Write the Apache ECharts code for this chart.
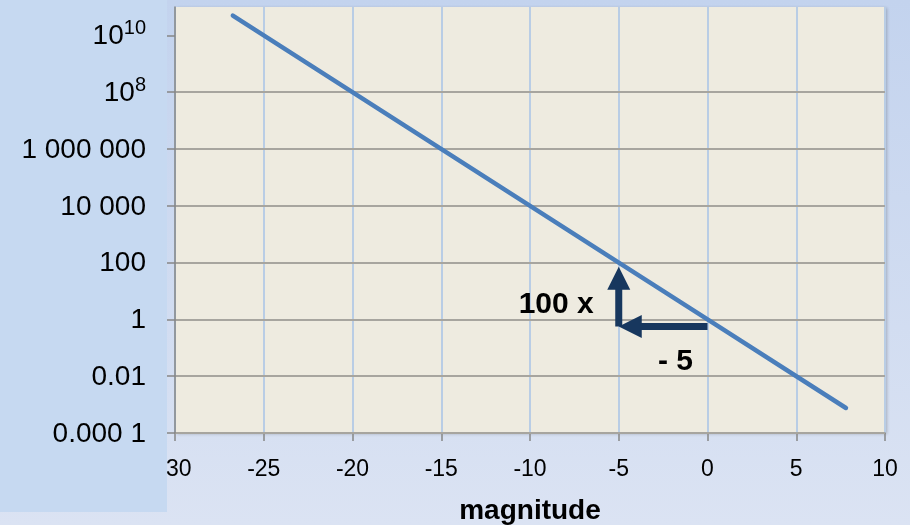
<!DOCTYPE html>
<html>
<head>
<meta charset="utf-8">
<script src="https://cdn.jsdelivr.net/npm/echarts@6/dist/echarts.min.js"></script>
<style>
  html, body { margin: 0; padding: 0; }
  #chart { width: 910px; height: 525px; }
</style>
</head>
<body>
<div id="chart"></div>
<script>
// Relative brightness versus apparent magnitude (log scale)
const magnitudes = [-26.74, -5, 0, 7.8];
const brightness = [5.0e10, 100, 1, 7.6e-4];

// Y tick values and their printed labels ("^" marks a superscript)
const yTickValues = [1e-4, 1e-2, 1, 1e2, 1e4, 1e6, 1e8, 1e10];
const yTickLabels = ['0.000 1', '0.01', '1', '100', '10 000', '1 000 000', '10^8', '10^10'];

// "5 magnitudes = 100 x" step drawn as two arrows (magnitude, brightness)
const stepStart = [0, 0.56];
const stepCorner = [-5, 0.56];
const stepTop = [-5, 72];
const stepLabels = ['100 x', '- 5'];

const FONT = '"Liberation Sans", Arial, sans-serif';
const NAVY = '#17375e';

const chart = echarts.init(document.getElementById('chart'), null, { renderer: 'canvas' });

function tickIndex(v) {
  const e = Math.log10(v);
  for (let i = 0; i < yTickValues.length; i++) {
    if (Math.abs(e - Math.log10(yTickValues[i])) < 1e-6) return i;
  }
  return -1;
}

function yLabel(v) {
  const i = tickIndex(v);
  if (i < 0) return '';
  const s = yTickLabels[i];
  if (s.indexOf('^') >= 0) {
    const p = s.split('^');
    return '{b|' + p[0] + '}{s|' + p[1] + '}';
  }
  return s;
}

chart.setOption({
  animation: false,
  backgroundColor: {
    type: 'linear', x: 0, y: 0, x2: 0, y2: 1,
    colorStops: [
      { offset: 0, color: '#c3d3ee' },
      { offset: 1, color: '#dbe3f3' }
    ]
  },
  grid: {
    left: 175, top: 7, right: 25, bottom: 92,
    outerBoundsMode: 'none',
    containLabel: false,
    show: true,
    backgroundColor: '#eeebe0',
    borderWidth: 0,
    shadowColor: 'rgba(0,0,0,0.22)',
    shadowBlur: 3,
    shadowOffsetX: 2,
    shadowOffsetY: 1
  },
  xAxis: {
    type: 'value',
    min: -30, max: 10, interval: 5,
    z: 1,
    name: 'magnitude',
    nameLocation: 'middle',
    nameGap: 64,
    nameTextStyle: { fontFamily: FONT, fontSize: 28, fontWeight: 'bold', color: '#000' },
    axisLine: { show: true, lineStyle: { color: '#868686', width: 1.5 } },
    axisTick: { show: true, length: 8, lineStyle: { color: '#868686', width: 1.5 } },
    axisLabel: { fontFamily: FONT, fontSize: 23, color: '#000', margin: 25 },
    splitLine: { show: true, lineStyle: { color: '#b9cde5', width: 2 } }
  },
  yAxis: {
    type: 'log',
    logBase: 10,
    min: 1e-4, max: 1e11,
    interval: 2,
    z: 3,
    axisLine: { show: true, onZero: false, lineStyle: { color: '#868686', width: 1.5 } },
    axisTick: {
      show: true, length: 8,
      customValues: yTickValues,
      lineStyle: { color: '#868686', width: 1.5 }
    },
    axisLabel: {
      fontFamily: FONT, fontSize: 28, color: '#000', margin: 29,
      padding: [2, 0, 0, 0],
      formatter: yLabel,
      rich: {
        b: { fontFamily: FONT, fontSize: 28, lineHeight: 36, color: '#000' },
        s: { fontFamily: FONT, fontSize: 20, color: '#000', verticalAlign: 'top' }
      }
    },
    splitLine: {
      show: true,
      showMaxLine: false,
      lineStyle: { color: '#a7a59f', width: 2 }
    },
    minorSplitLine: { show: false }
  },
  series: [{
    type: 'line',
    z: 5,
    silent: true,
    showSymbol: false,
    data: magnitudes.map((m, i) => [m, brightness[i]]),
    lineStyle: { color: '#4a7ebb', width: 4.5, cap: 'round' }
  }]
});

// Arrow polygon (shaft + triangular head) between two pixel points
function arrowPoints(s, t, shaft, headLen, headW) {
  const dx = t[0] - s[0], dy = t[1] - s[1];
  const len = Math.hypot(dx, dy);
  const ux = dx / len, uy = dy / len;
  const nx = -uy, ny = ux;
  const bx = t[0] - ux * headLen, by = t[1] - uy * headLen;
  const hs = shaft / 2, hh = headW / 2;
  return [
    [s[0] + nx * hs, s[1] + ny * hs],
    [bx + nx * hs, by + ny * hs],
    [bx + nx * hh, by + ny * hh],
    [t[0], t[1]],
    [bx - nx * hh, by - ny * hh],
    [bx - nx * hs, by - ny * hs],
    [s[0] - nx * hs, s[1] - ny * hs]
  ];
}

const toPx = (p) => chart.convertToPixel({ gridIndex: 0 }, p);
const pStart = toPx(stepStart);
const pCorner = toPx(stepCorner);
const pTop = toPx(stepTop);

chart.setOption({
  graphic: [
    {
      type: 'rect', z: 2, silent: true,
      shape: { x: 0, y: 0, width: 167, height: 512 },
      style: { fill: '#c6d9f1' }
    },
    {
      type: 'polygon', z: 10, silent: true,
      shape: { points: arrowPoints(pCorner, pTop, 7, 23, 23) },
      style: { fill: NAVY }
    },
    {
      type: 'polygon', z: 10, silent: true,
      shape: { points: arrowPoints(pStart, pCorner, 7, 23, 23) },
      style: { fill: NAVY }
    },
    {
      type: 'text', z: 10, silent: true,
      x: pCorner[0] - 25, y: 305,
      style: { text: stepLabels[0], fill: '#000', font: 'bold 30px ' + FONT, textAlign: 'right', textVerticalAlign: 'middle' }
    },
    {
      type: 'text', z: 10, silent: true,
      x: 658, y: 362,
      style: { text: stepLabels[1], fill: '#000', font: 'bold 30px ' + FONT, textAlign: 'left', textVerticalAlign: 'middle' }
    }
  ]
});
</script>
</body>
</html>
